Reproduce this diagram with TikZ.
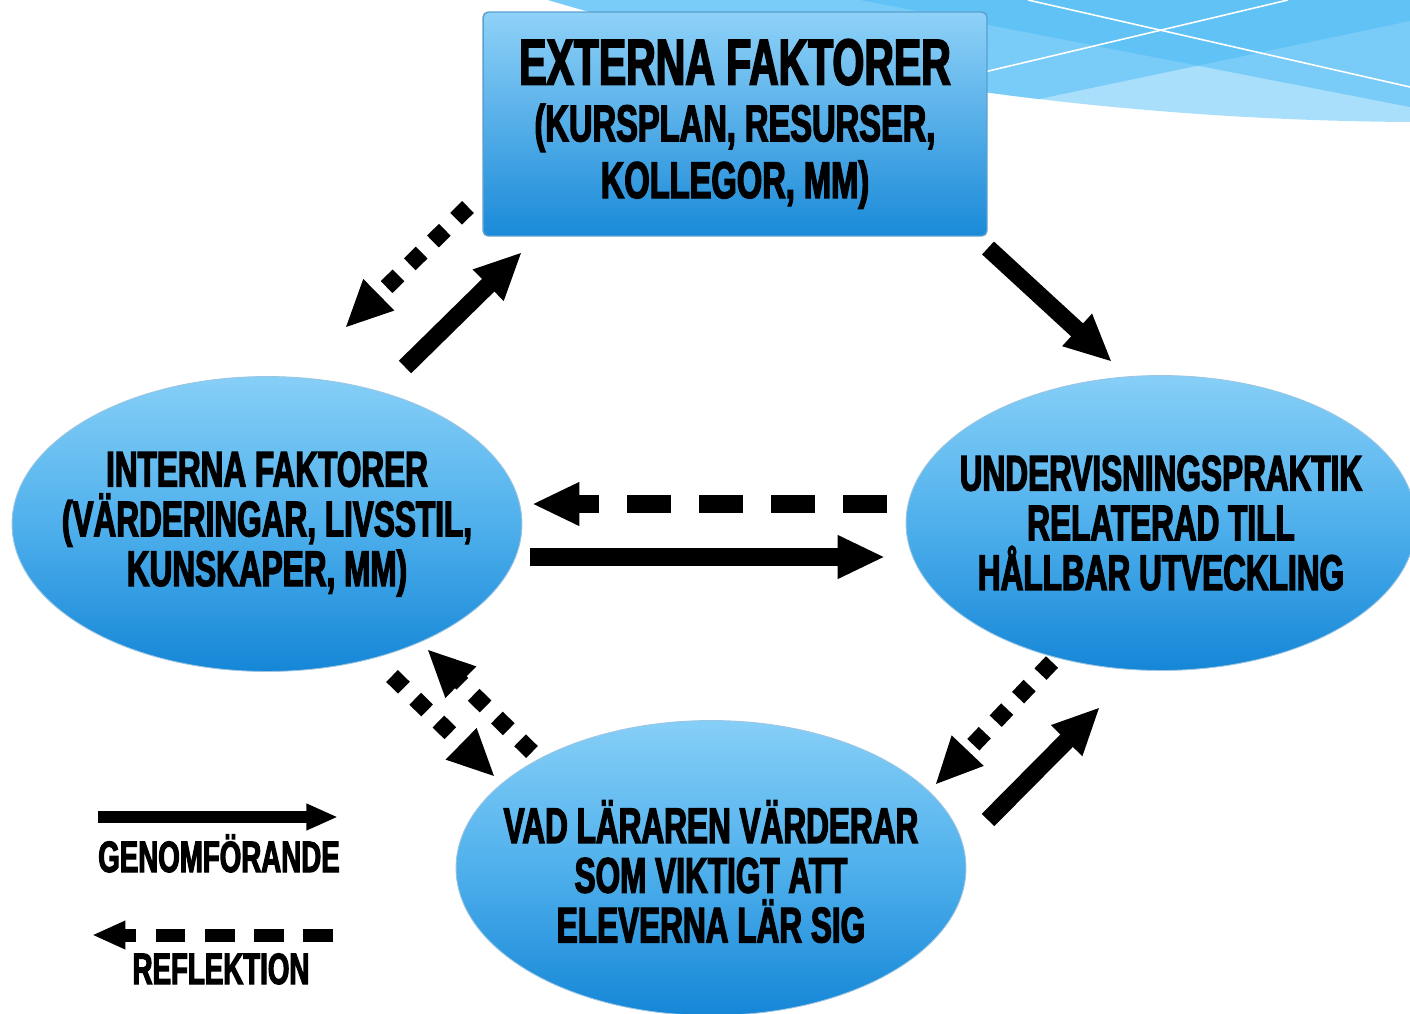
\documentclass[tikz,border=0pt]{standalone}
\usepackage{fontspec}
\newfontfamily\impact{Liberation Sans}[FakeStretch=0.63,BoldFeatures={FakeBold=2.5}]
\usetikzlibrary{arrows.meta,shapes.geometric}

\definecolor{swlight}{HTML}{A9DFFA}
\definecolor{swdark}{HTML}{4ABBF5}
\definecolor{boxtop}{HTML}{8FD2F8}
\definecolor{boxbot}{HTML}{1A8AD8}
\definecolor{boxline}{HTML}{5A9FCF}
\definecolor{elltop}{HTML}{86CFF7}
\definecolor{ellmid}{HTML}{4FB0EC}
\definecolor{ellbot}{HTML}{1586D7}

\tikzset{
  faktor/.style={ellipse, minimum width=10.2cm, minimum height=5.9cm, inner sep=0pt,
    top color=elltop, bottom color=ellbot, middle color=ellmid, draw=boxline!60, line width=.5pt},
  ftext/.style={align=center, inner sep=0pt, font=\impact\bfseries\fontsize{28.5}{28.3}\selectfont},
  ruta/.style={rectangle, rounded corners=3pt, minimum width=10.08cm, minimum height=4.48cm,
    top color=boxtop, bottom color=boxbot, draw=boxline, line width=.8pt, align=center,
    font=\impact\bfseries\fontsize{29.5}{32.3}\selectfont},
  spets/.style={-{Triangle[length=27pt,width=23pt]}},
  genom/.style={spets, line width=10pt},
  refl/.style={spets, line width=10pt, dash pattern=on 25pt off 16pt},
  prick/.style={spets, line width=9.5pt, dash pattern=on 9.5pt off 9pt},
  legtext/.style={anchor=base, inner sep=0pt, font=\impact\bfseries\fontsize{25}{25}\selectfont},
}

\begin{document}
\begin{tikzpicture}[x=0.02cm, y=-0.02cm]
  \useasboundingbox (0,0) rectangle (1410,1014);
  \clip (0,0) rectangle (1410,1014);

  % swoosh in the top right corner
  \begin{scope}
    \clip (548,0) .. controls (800,75) and (1100,120) .. (1410,122) -- (1410,0) -- cycle;
    \fill[swlight] (540,0) rectangle (1410,130);
    \fill[swdark, opacity=.5] (860,0) -- (1410,0) -- (1410,107) -- cycle;
    \fill[swdark, opacity=.5] (540,0) -- (1410,0) -- (1410,21) -- (540,204) -- cycle;
    \draw[white, line width=.9pt] (1028,0) -- (1410,87);
    \draw[white, line width=.9pt] (1288,0) -- (900,92);
  \end{scope}

  % the four factors
  \node[ruta] (externa) at (735,124)
    {{\fontsize{37}{32.3}\selectfont EXTERNA FAKTORER}\\(KURSPLAN, RESURSER,\\KOLLEGOR, MM)};
  \node[faktor] (interna) at (267,524) {};
  \node[faktor] (praktik) at (1161,523) {};
  \node[faktor] (larare) at (711,868) {};
  \node[ftext] (interna-t) at (interna) {INTERNA FAKTORER\\(VÄRDERINGAR, LIVSSTIL,\\KUNSKAPER, MM)};
  \node[ftext] (praktik-t) at (praktik) {UNDERVISNINGSPRAKTIK\\RELATERAD TILL\\HÅLLBAR UTVECKLING};
  \node[ftext] (larare-t) at ([yshift=-2pt]larare) {VAD LÄRAREN VÄRDERAR\\SOM VIKTIGT ATT\\ELEVERNA LÄR SIG};

  % genomförande (solid)
  \draw[genom] ([shift={(138,-157)}]interna.center) -- ([shift={(-213,128)}]externa.center);
  \draw[genom] ([shift={(253,124)}]externa.center) -- ([shift={(-49,-161)}]praktik.center);
  \draw[genom] ([shift={(263,33)}]interna.center) -- ([shift={(-276,34)}]praktik.center);
  \draw[genom] ([shift={(277,-48)}]larare.center) -- ([shift={(-61,184)}]praktik.center);

  % reflektion (dashed and dotted)
  \draw[refl] ([shift={(-274,-19)}]praktik.center) -- ([shift={(265,-20)}]interna.center);
  \draw[prick] ([shift={(-267,83)}]externa.center) -- ([shift={(78,-196)}]interna.center);
  \draw[prick] ([shift={(-109,139)}]praktik.center) -- ([shift={(224,-83)}]larare.center);
  \draw[prick] ([shift={(-179,-116)}]larare.center) -- ([shift={(160,125)}]interna.center);
  \draw[prick] ([shift={(125,152)}]interna.center) -- ([shift={(-216,-91)}]larare.center);

  % legend
  \coordinate (g1) at (98,817);
  \coordinate (g2) at (338,817);
  \coordinate (r1) at (333,935);
  \coordinate (r2) at (92,935);
  \draw[line width=6.8pt, -{Triangle[length=18pt,width=14pt]}] (g1) -- (g2);
  \draw[line width=7.4pt, dash pattern=on 17pt off 11pt, -{Triangle[length=19pt,width=15pt]}] (r1) -- (r2);
  \node[legtext] (genom-t) at (219,872) {GENOMFÖRANDE};
  \node[legtext] (refl-t) at (221,984) {REFLEKTION};
\end{tikzpicture}
\end{document}
